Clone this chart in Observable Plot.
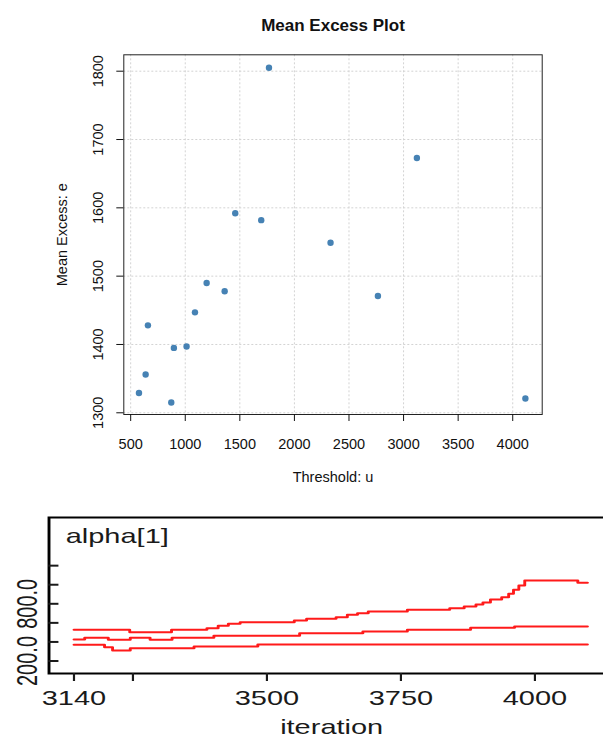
<!DOCTYPE html>
<html><head><meta charset="utf-8">
<script src="https://cdn.jsdelivr.net/npm/d3@7"></script>
<script src="https://cdn.jsdelivr.net/npm/@observablehq/plot@0.6"></script>
<style>
html,body{margin:0;padding:0;background:#fff;overflow:hidden;width:603px;height:740px;}
#topPanel{position:absolute;left:0;top:0;width:603px;height:500px;}
#bottomPanel{position:absolute;left:0;top:500px;width:603px;height:240px;overflow:hidden;}
#bottomPanel svg{transform:scaleX(1.45);transform-origin:0 0;max-width:none !important;}
</style></head><body>
<div id="topPanel"></div><div id="bottomPanel"></div>
<script>
// ---- Mean excess plot data ----
const threshold  = [576, 637, 658, 872, 896, 1012, 1089, 1196, 1361, 1458, 1696, 1767, 2331, 2765, 3122, 4116];
const meanExcess = [1329, 1356, 1428, 1315, 1395, 1397, 1447, 1490, 1478, 1592, 1582, 1805, 1549, 1471, 1673, 1321];
const thresholdTicks = [500, 1000, 1500, 2000, 2500, 3000, 3500, 4000];
const excessTicks = [1300, 1400, 1500, 1600, 1700, 1800];

// ---- alpha[1] quantile traces ----
const upperIter  = [3140, 3244, 3322, 3388, 3409, 3428, 3450, 3551, 3574, 3629, 3650, 3669, 3689, 3762, 3841, 3868, 3890, 3903, 3917, 3938, 3951, 3960, 3970, 3981, 4080, 4098];
const upperVal   = [527, 502, 527, 544, 569, 590, 607, 625, 643, 659, 685, 701, 719, 737, 754, 772, 793, 814, 845, 869, 905, 947, 992, 1044, 1020, 1020];
const medianIter = [3140, 3160, 3204, 3245, 3282, 3323, 3401, 3561, 3679, 3762, 3880, 3962, 4098];
const medianVal  = [425, 443, 422, 443, 422, 443, 465, 492, 509, 529, 548, 562, 562];
const lowerIter  = [3140, 3190, 3197, 3212, 3243, 3245, 3364, 3483, 4098];
const lowerVal   = [370, 370, 345, 310, 310, 334, 352, 373, 373];
const iterTicks  = [3140, 3250, 3500, 3750, 4000];
const iterLabels = ["3140", "", "3500", "3750", "4000"];
const alphaTicks = [200, 400, 600, 800, 1000, 1200];
const alphaLabels = ["200.0", "", "", "800.0", "", ""];

const font = "'Liberation Sans', Arial, Helvetica, sans-serif";

const points = threshold.map((u, i) => ({u, e: meanExcess[i]}));

const topChart = Plot.plot({
  width: 603, height: 500,
  marginLeft: 123.3, marginRight: 61.3, marginTop: 54.3, marginBottom: 86,
  style: {fontFamily: font, fontSize: "14.5px", color: "#111", background: "#fff"},
  x: {domain: [437, 4270]},
  y: {domain: [1297.5, 1824]},
  marks: [
    Plot.gridX({ticks: thresholdTicks, stroke: "#d3d3d3", strokeOpacity: 1, strokeDasharray: "2,2"}),
    Plot.gridY({ticks: excessTicks, stroke: "#d3d3d3", strokeOpacity: 1, strokeDasharray: "2,2"}),
    Plot.dot(points, {x: "u", y: "e", r: 3.2, fill: "steelblue", stroke: null}),
    Plot.frame({stroke: "#222"}),
    Plot.axisX({ticks: thresholdTicks, tickFormat: d => String(d), tickSize: 7, tickPadding: 17, label: null}),
    Plot.axisY({ticks: excessTicks, tickFormat: d => String(d), tickSize: 7, tickPadding: 14, tickRotate: -90, label: null}),
    Plot.text(["Mean Excess Plot"], {text: d => d, frameAnchor: "top", dy: -36, fontWeight: "bold", fontSize: 17}),
    Plot.text(["Threshold: u"], {text: d => d, frameAnchor: "bottom", dy: 67}),
    Plot.text(["Mean Excess: e"], {text: d => d, frameAnchor: "left", dx: -61.3, rotate: -90, textAnchor: "middle"})
  ]
});
document.getElementById("topPanel").appendChild(topChart);

const series = [
  ...upperIter.map((it, i) => ({q: "upper", iter: it, v: upperVal[i]})),
  ...medianIter.map((it, i) => ({q: "median", iter: it, v: medianVal[i]})),
  ...lowerIter.map((it, i) => ({q: "lower", iter: it, v: lowerVal[i]}))
];

const bottomChart = Plot.plot({
  width: 440, height: 240,
  marginLeft: 33.3, marginRight: 9, marginTop: 17, marginBottom: 67,
  style: {fontFamily: font, fontSize: "20px", color: "#1a1a1a", background: "#fff", overflow: "visible"},
  x: {domain: [3093.4, 4169.3]},
  y: {domain: [69, 1705]},
  marks: [
    Plot.line(series, {x: "iter", y: "v", z: "q", stroke: "#ff1a1a", strokeWidth: 2, curve: "step-after"}),
    Plot.frame({stroke: "#000", strokeWidth: 2}),
    Plot.axisX({ticks: iterTicks, tickFormat: d => iterLabels[iterTicks.indexOf(d)], tickSize: 8, tickPadding: 9, strokeWidth: 1.5, label: null}),
    Plot.axisY({ticks: alphaTicks, tickFormat: d => alphaLabels[alphaTicks.indexOf(d)], tickSize: -7, tickPadding: 15, tickRotate: -90, strokeWidth: 2, label: null}),
    Plot.text(["alpha[1]"], {text: d => d, frameAnchor: "top-left", dx: 11.5, dy: 25.5, lineAnchor: "bottom", textAnchor: "start"}),
    Plot.text(["iteration"], {text: d => d, frameAnchor: "bottom", dx: -3.9, dy: 60, lineAnchor: "bottom"})
  ]
});
document.getElementById("bottomPanel").appendChild(bottomChart);
</script>
</body></html>
